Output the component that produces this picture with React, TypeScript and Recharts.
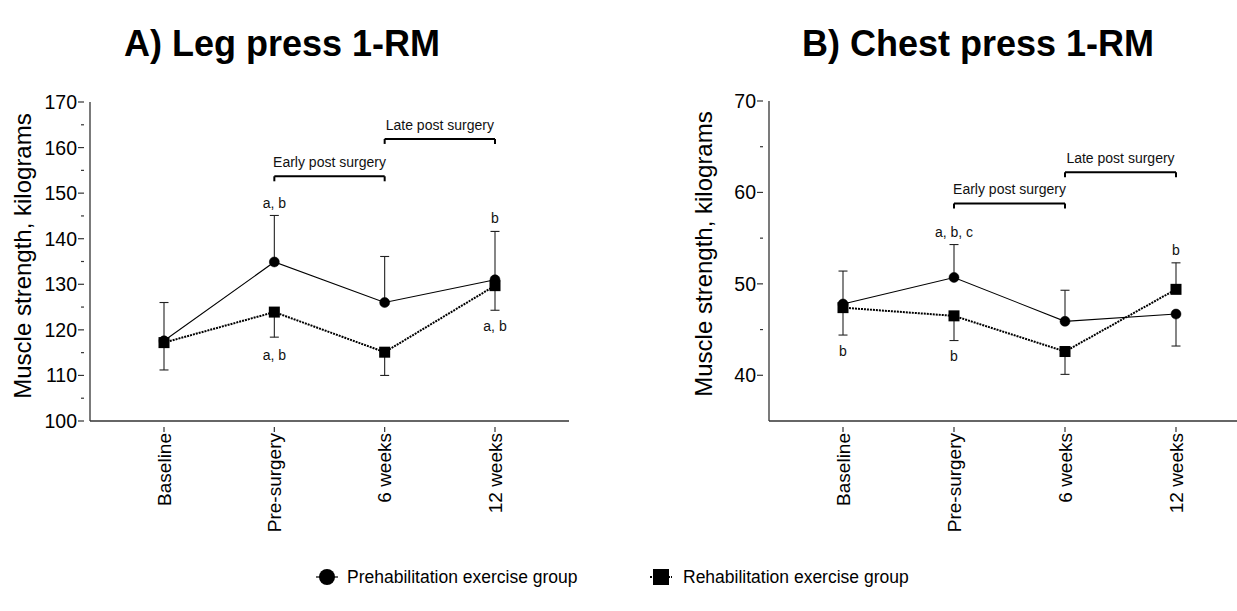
import React from "react";
import {
  LineChart,
  Line,
  XAxis,
  YAxis,
  ErrorBar,
  ReferenceLine,
  ReferenceDot,
} from "recharts";

const FONT = '"Liberation Sans", Arial, Helvetica, sans-serif';
const AXIS = "#333";

const categories = ["Baseline", "Pre-surgery", "6 weeks", "12 weeks"];

// A) Leg press 1-RM (kg)
const legPrehab = [117.6, 134.9, 126.0, 131.0];
const legPrehabErr = [[0, 8.4], [0, 10.2], [0, 10.1], [0, 10.6]];
const legRehab = [117.2, 123.9, 115.1, 129.7];
const legRehabErr = [[6.0, 0], [5.5, 0], [5.1, 0], [5.4, 0]];
const legTicks = [100, 105, 110, 115, 120, 125, 130, 135, 140, 145, 150, 155, 160, 165, 170];

// B) Chest press 1-RM (kg)
const chestPrehab = [47.8, 50.7, 45.9, 46.7];
const chestPrehabErr = [[0, 3.6], [0, 3.6], [0, 3.4], [3.5, 0]];
const chestRehab = [47.4, 46.5, 42.6, 49.4];
const chestRehabErr = [[3.0, 0], [2.7, 0], [2.5, 0], [0, 2.9]];
const chestTicks = [40, 45, 50, 55, 60, 65, 70];

const legData = categories.map((c, i) => ({
  cat: c,
  prehab: legPrehab[i],
  prehabErr: legPrehabErr[i],
  rehab: legRehab[i],
  rehabErr: legRehabErr[i],
}));

const chestData = categories.map((c, i) => ({
  cat: c,
  prehab: chestPrehab[i],
  prehabErr: chestPrehabErr[i],
  rehab: chestRehab[i],
  rehabErr: chestRehabErr[i],
}));

function YTick(props: any) {
  const { x, y, payload } = props;
  const major = payload.value % 10 === 0;
  return (
    <g>
      <line x1={x - (major ? 6 : 3)} x2={x} y1={y} y2={y} stroke={AXIS} strokeWidth={1.2} />
      {major && (
        <text
          x={x - 7}
          y={y}
          textAnchor="end"
          dominantBaseline="central"
          fontSize={19.5}
          fontFamily={FONT}
          fill="#000"
        >
          {payload.value}
        </text>
      )}
    </g>
  );
}

function XTick(props: any) {
  const { x, y, payload } = props;
  return (
    <g>
      <line x1={x} x2={x} y1={y} y2={y + 5} stroke={AXIS} strokeWidth={1.2} />
      <text
        transform={`translate(${x},${y + 6}) rotate(-90)`}
        textAnchor="end"
        dominantBaseline="central"
        fontSize={19}
        fontFamily={FONT}
        fill="#000"
      >
        {payload.value}
      </text>
    </g>
  );
}

function SquareDot(props: any) {
  const { cx, cy, index } = props;
  return <rect key={index} x={cx - 5.5} y={cy - 5.5} width={11} height={11} fill="#000" />;
}

const note = (value: string) => ({
  value,
  position: "center" as const,
  fontSize: 14,
  fontFamily: FONT,
  fill: "#111",
});

function Bracket({ from, to, y, drop, text }: any) {
  return [
    <ReferenceLine
      key={"h" + text}
      segment={[{ x: from, y }, { x: to, y }]}
      stroke="#000"
      strokeWidth={2}
      label={{ value: text, position: "top", offset: 9, fontSize: 14, fontFamily: FONT, fill: "#111" }}
    />,
    <ReferenceLine key={"l" + text} segment={[{ x: from, y }, { x: from, y: y - drop }]} stroke="#000" strokeWidth={2} />,
    <ReferenceLine key={"r" + text} segment={[{ x: to, y }, { x: to, y: y - drop }]} stroke="#000" strokeWidth={2} />,
  ];
}

function seriesLines() {
  return [
    <Line
      key="prehab"
      dataKey="prehab"
      name="Prehabilitation exercise group"
      stroke="#000"
      strokeWidth={1.1}
      dot={{ r: 5, fill: "#000", stroke: "#000", strokeWidth: 0.5 }}
      isAnimationActive={false}
    >
      <ErrorBar dataKey="prehabErr" direction="y" width={4.5} stroke="#222" strokeWidth={1.1} />
    </Line>,
    <Line
      key="rehab"
      dataKey="rehab"
      name="Rehabilitation exercise group"
      stroke="#000"
      strokeWidth={2}
      strokeDasharray="2 1"
      dot={SquareDot}
      isAnimationActive={false}
    >
      <ErrorBar dataKey="rehabErr" direction="y" width={4.5} stroke="#222" strokeWidth={1.1} />
    </Line>,
  ];
}

export default function App() {
  return (
    <div
      style={{
        position: "absolute",
        left: 0,
        top: 0,
        width: 1237,
        height: 611,
        overflow: "hidden",
        background: "#fff",
        fontFamily: FONT,
      }}
    >
      <div style={{ position: "absolute", left: 0, top: 0 }}>
        <LineChart width={600} height={611} data={legData} margin={{ top: 102, right: 31, bottom: 0, left: 0 }}>
          <XAxis
            dataKey="cat"
            scale="point"
            padding={{ left: 74, right: 74 }}
            height={190}
            tickLine={false}
            tickMargin={0}
            axisLine={{ stroke: AXIS, strokeWidth: 1.3 }}
            tick={XTick}
            interval={0}
          />
          <YAxis
            domain={[100, 170]}
            ticks={legTicks}
            width={90}
            tickLine={false}
            tickMargin={0}
            axisLine={{ stroke: AXIS, strokeWidth: 1.3 }}
            tick={YTick}
            interval={0}
          />
          {seriesLines()}
          {Bracket({ from: "Pre-surgery", to: "6 weeks", y: 153.7, drop: 1.1, text: "Early post surgery" })}
          {Bracket({ from: "6 weeks", to: "12 weeks", y: 161.9, drop: 1.1, text: "Late post surgery" })}
          <ReferenceDot x="Pre-surgery" y={147.8} r={0} fill="none" stroke="none" label={note("a, b")} />
          <ReferenceDot x="12 weeks" y={144.5} r={0} fill="none" stroke="none" label={note("b")} />
          <ReferenceDot x="Pre-surgery" y={114.5} r={0} fill="none" stroke="none" label={note("a, b")} />
          <ReferenceDot x="12 weeks" y={120.8} r={0} fill="none" stroke="none" label={note("a, b")} />
        </LineChart>
      </div>

      <div style={{ position: "absolute", left: 620, top: 0 }}>
        <LineChart width={640} height={611} data={chestData} margin={{ top: 101, right: 10, bottom: 0, left: 0 }}>
          <XAxis
            dataKey="cat"
            scale="point"
            padding={{ left: 74, right: 74 }}
            height={190}
            tickLine={false}
            tickMargin={0}
            axisLine={{ stroke: AXIS, strokeWidth: 1.3 }}
            tick={XTick}
            interval={0}
          />
          <YAxis
            domain={[35, 70]}
            ticks={chestTicks}
            width={149}
            tickLine={false}
            tickMargin={0}
            axisLine={{ stroke: AXIS, strokeWidth: 1.3 }}
            tick={YTick}
            interval={0}
          />
          {seriesLines()}
          {Bracket({ from: "Pre-surgery", to: "6 weeks", y: 58.8, drop: 0.55, text: "Early post surgery" })}
          {Bracket({ from: "6 weeks", to: "12 weeks", y: 62.2, drop: 0.55, text: "Late post surgery" })}
          <ReferenceDot x="Pre-surgery" y={55.7} r={0} fill="none" stroke="none" label={note("a, b, c")} />
          <ReferenceDot x="12 weeks" y={53.7} r={0} fill="none" stroke="none" label={note("b")} />
          <ReferenceDot x="Baseline" y={42.7} r={0} fill="none" stroke="none" label={note("b")} />
          <ReferenceDot x="Pre-surgery" y={42.1} r={0} fill="none" stroke="none" label={note("b")} />
        </LineChart>
      </div>

      <svg
        width={1237}
        height={611}
        style={{ position: "absolute", left: 0, top: 0, pointerEvents: "none" }}
        fontFamily={FONT}
      >
        <text x={282} y={56} textAnchor="middle" fontSize={36} fontWeight="bold" fill="#000">
          A) Leg press 1-RM
        </text>
        <text x={978} y={56} textAnchor="middle" fontSize={36} fontWeight="bold" fill="#000">
          B) Chest press 1-RM
        </text>
        <text
          transform="translate(22,256) rotate(-90)"
          textAnchor="middle"
          dominantBaseline="central"
          fontSize={24}
          fill="#000"
        >
          Muscle strength, kilograms
        </text>
        <text
          transform="translate(703,254) rotate(-90)"
          textAnchor="middle"
          dominantBaseline="central"
          fontSize={24}
          fill="#000"
        >
          Muscle strength, kilograms
        </text>

        <line x1={316} x2={338} y1={577} y2={577} stroke="#000" strokeWidth={1.2} />
        <circle cx={327} cy={577} r={8} fill="#000" />
        <text x={347} y={577} dominantBaseline="central" fontSize={17.5} fill="#000">
          Prehabilitation exercise group
        </text>
        <line x1={650} x2={672} y1={577} y2={577} stroke="#000" strokeWidth={2} strokeDasharray="2 1" />
        <rect x={653} y={569} width={16} height={16} fill="#000" />
        <text x={683} y={577} dominantBaseline="central" fontSize={17.5} fill="#000">
          Rehabilitation exercise group
        </text>
      </svg>
    </div>
  );
}
